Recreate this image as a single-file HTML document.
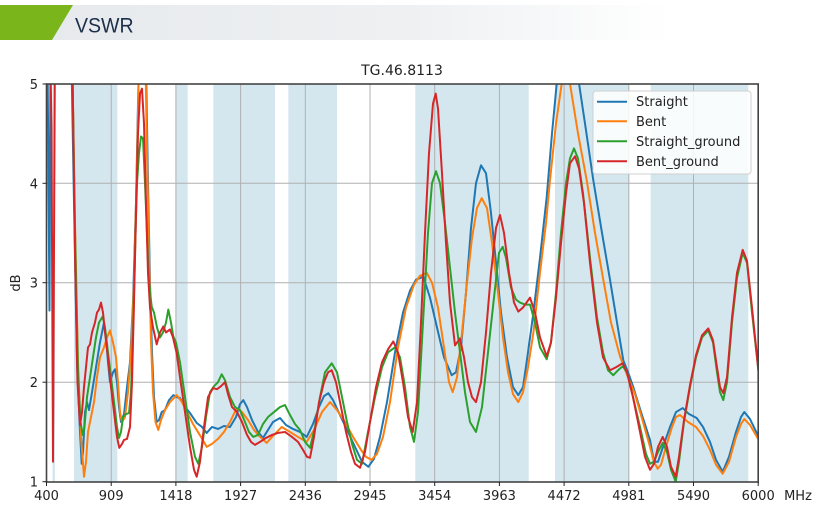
<!DOCTYPE html>
<html><head><meta charset="utf-8"><style>
html,body{margin:0;padding:0;background:#fff;}
body{width:817px;height:512px;overflow:hidden;position:relative;font-family:"DejaVu Sans","Liberation Sans",sans-serif;}
</style></head><body>
<svg width="817" height="512" viewBox="0 0 817 512" xmlns="http://www.w3.org/2000/svg" style="position:absolute;left:0;top:0">
<defs>
<linearGradient id="hg" x1="0" x2="1" y1="0" y2="0">
<stop offset="0" stop-color="#e6e9ec"/><stop offset="0.5" stop-color="#eef0f2"/><stop offset="0.82" stop-color="#ffffff"/>
</linearGradient>
<clipPath id="pc"><rect x="46.5" y="84" width="712" height="398"/></clipPath>
</defs>
<!-- header -->
<rect x="0" y="5" width="817" height="35" fill="url(#hg)"/>
<polygon points="0,5 73,5 52,40 0,40" fill="#79b51b"/>
<text x="75" y="32.5" font-family="Liberation Sans, sans-serif" font-size="21" fill="#1b2f4b" transform="translate(75 0) scale(0.93 1) translate(-75 0)">VSWR</text>

<!-- title -->
<text x="402" y="75" font-size="14" text-anchor="middle" fill="#222">TG.46.8113</text>

<!-- bands -->
<g fill="#d4e7ef">
<rect x="52.5" y="84" width="2.5" height="398"/>
<rect x="74" y="84" width="43.3" height="398"/>
<rect x="175.7" y="84" width="12" height="398"/>
<rect x="213.3" y="84" width="61.7" height="398"/>
<rect x="288.3" y="84" width="48.7" height="398"/>
<rect x="415.3" y="84" width="113.4" height="398"/>
<rect x="555" y="84" width="74.3" height="398"/>
<rect x="650.7" y="84" width="97.6" height="398"/>
</g>
<!-- grid -->
<g stroke="#b0b0b0" stroke-width="1">
<line x1="111.2" y1="84" x2="111.2" y2="482"/>
<line x1="175.9" y1="84" x2="175.9" y2="482"/>
<line x1="240.6" y1="84" x2="240.6" y2="482"/>
<line x1="305.3" y1="84" x2="305.3" y2="482"/>
<line x1="370" y1="84" x2="370" y2="482"/>
<line x1="434.7" y1="84" x2="434.7" y2="482"/>
<line x1="499.4" y1="84" x2="499.4" y2="482"/>
<line x1="564.1" y1="84" x2="564.1" y2="482"/>
<line x1="628.8" y1="84" x2="628.8" y2="482"/>
<line x1="693.5" y1="84" x2="693.5" y2="482"/>
<line x1="46.5" y1="183.3" x2="758.2" y2="183.3"/>
<line x1="46.5" y1="282.7" x2="758.2" y2="282.7"/>
<line x1="46.5" y1="382.2" x2="758.2" y2="382.2"/>
</g>

<!-- series -->
<g clip-path="url(#pc)">
<g transform="matrix(1 0 0 -99.5 0 581.2)" fill="none" stroke-width="2" stroke-linejoin="round" stroke-linecap="round">
<polyline vector-effect="non-scaling-stroke" stroke="#1f77b4" points="46.5,6 47.5,5.3 49.5,2.72 50.5,5.3 52,6 70,6 71.5,5.2 74,3.8 77,2.2 80,1.5 81.7,1.18 83,1.3 85,1.7 87,1.8 89,1.72 92,1.9 96,2.15 100,2.4 104,2.6 106,2.45 108,2.2 110,2.0 113,2.1 115,2.13 117,2.0 119,1.75 121,1.6 124,1.68 127,1.95 130,2.2 133,2.8 136,3.8 138,4.8 140,5.6 143,5.8 146,5.2 148,4.0 150,3.0 152,2.3 154,1.85 156.7,1.6 159,1.62 161.7,1.7 165,1.72 169,1.82 173.3,1.87 177,1.85 180,1.84 185,1.75 190,1.69 196.7,1.59 202,1.55 206.7,1.49 212,1.55 218,1.53 224,1.56 230,1.55 236,1.65 240,1.78 243.3,1.82 247,1.75 252,1.62 258,1.5 263,1.44 268,1.52 273,1.6 280,1.64 286,1.57 293,1.53 300,1.5 306.7,1.45 313,1.58 319,1.75 324,1.86 328.3,1.89 333,1.82 340,1.67 348,1.5 355,1.35 362,1.2 368.3,1.15 374,1.23 380,1.45 387,1.8 395,2.3 403,2.7 410,2.92 416,3.03 423.3,3.06 430,2.85 437,2.55 444,2.25 451.7,2.07 456,2.1 461,2.35 466,2.9 471,3.55 476,4.0 481,4.18 486,4.1 491,3.7 496,3.2 501,2.7 507,2.25 513,1.95 518.3,1.87 523,1.95 528,2.3 533.3,2.69 540,3.25 546.7,3.86 552,4.5 556.7,5.0 562,5.6 570,5.8 578.3,5.05 585,4.6 593.3,4.03 602,3.5 610,3.03 617,2.6 623.3,2.22 628,2.1 633.3,1.95 641,1.7 650,1.42 654,1.2 658,1.2 663,1.35 670,1.55 676,1.7 682.7,1.74 689,1.68 696.7,1.64 703,1.55 710,1.4 716,1.22 722.7,1.1 729,1.25 736,1.5 741,1.65 744.3,1.7 750,1.63 758.7,1.45"/>
<polyline vector-effect="non-scaling-stroke" stroke="#ff7f0e" points="46.5,6 70,6 72.5,5.1 75,3.6 78,2.2 81,1.45 84,1.05 86,1.2 88,1.5 91,1.65 94,1.8 97,2.05 100,2.25 104,2.35 107,2.45 110,2.52 113,2.4 116,2.25 118,2.0 120,1.7 122,1.6 125,1.65 128,1.9 131,2.3 134,3.0 137,4.2 139,5.2 142,5.8 145,5.5 147,4.3 149,3.3 151,2.4 153,1.9 155.5,1.6 158.3,1.52 161,1.62 165,1.72 170,1.8 176.7,1.87 182,1.8 188,1.68 193,1.58 196.7,1.52 201,1.45 206.7,1.35 212,1.38 218,1.43 224,1.5 230,1.6 236.7,1.74 242,1.7 248,1.62 254,1.52 260,1.45 266.7,1.39 272,1.45 281.7,1.55 290,1.5 298,1.45 306.7,1.4 314,1.52 322,1.7 330,1.8 337,1.72 345,1.6 353,1.45 361,1.32 366,1.25 371.7,1.22 377,1.28 383,1.45 390,1.8 398,2.35 406,2.75 414,2.98 420,3.07 426.7,3.1 432,3.0 438,2.75 444,2.35 449,2.0 452.7,1.9 457,2.05 462,2.5 467,3.0 472,3.45 477,3.75 481.7,3.85 487,3.75 492,3.4 498,2.9 503,2.45 508,2.1 513,1.88 518.3,1.8 523,1.9 528,2.15 533.3,2.49 540,3.1 546,3.6 550,4.03 556,4.6 561.7,5.0 566,5.3 570,5.0 578,4.5 586.7,4.03 595,3.5 603.3,3.03 611,2.6 620,2.26 628,2.05 635,1.88 643,1.6 650,1.35 654,1.2 657.7,1.13 661,1.17 666,1.35 672,1.55 676,1.65 680,1.67 688,1.6 696,1.55 703,1.46 710,1.32 716,1.17 722.7,1.08 729,1.2 736,1.45 741,1.58 744.3,1.63 750,1.57 758.7,1.42"/>
<polyline vector-effect="non-scaling-stroke" stroke="#2ca02c" points="46.5,6 70,6 72.5,5.1 75,3.5 78,2.1 80.5,1.6 82.7,1.47 84.5,1.55 87,1.85 90,2.05 93,2.25 96,2.45 99,2.6 102.7,2.66 105,2.55 108,2.3 111,2.05 114,1.8 117,1.55 119,1.44 121,1.5 123,1.65 126,1.68 129,1.69 131,1.9 133,2.5 135,3.3 137,4.0 139,4.3 141,4.47 143,4.45 145,4.0 147,3.5 149,3.0 151.7,2.76 154,2.7 157,2.55 160,2.45 163,2.5 166,2.6 168.3,2.73 171,2.6 173.3,2.46 176,2.4 180,2.2 185,1.85 190,1.5 195,1.25 198.3,1.18 202,1.35 206,1.65 210,1.9 214,1.96 218,2.0 221.7,2.08 225,2.02 230,1.85 235,1.75 240,1.72 245,1.6 249,1.5 253.3,1.45 258,1.47 263,1.58 268,1.65 274,1.7 280,1.75 285,1.77 290,1.67 295,1.58 300,1.52 305,1.4 310,1.34 315,1.55 320,1.85 325,2.1 331.7,2.19 337,2.1 342,1.85 347,1.6 352,1.38 357,1.22 362,1.18 368,1.5 375,1.85 382,2.15 388,2.3 395,2.35 400,2.25 405,1.95 410,1.55 414,1.4 418,1.7 423,2.6 428,3.5 432,4.0 436,4.12 440,4.0 445,3.6 450,3.15 455,2.7 460,2.3 465,1.9 470,1.6 476,1.5 482,1.75 488,2.3 494,2.85 499,3.3 502.7,3.36 506,3.25 511,2.95 516,2.83 520,2.8 525,2.78 530,2.78 535,2.6 540,2.35 546.7,2.23 551,2.4 556,2.9 561,3.5 566,4.0 570,4.25 574,4.35 578,4.25 583,3.9 590,3.25 597,2.65 603,2.3 608,2.12 613.3,2.07 618,2.12 622.7,2.16 627,2.1 633,1.85 640,1.55 646,1.28 650,1.18 654,1.2 658,1.3 662.7,1.39 667,1.3 671,1.12 675.7,1.0 679,1.2 684,1.6 690,1.95 696,2.25 702,2.45 708.3,2.52 713,2.4 717,2.1 720,1.9 723.3,1.82 727,2.0 732,2.6 737,3.05 742.7,3.3 747,3.2 752,2.7 758.7,2.09"/>
<polyline vector-effect="non-scaling-stroke" stroke="#d62728" points="46.5,6 50,5.5 51.5,4.55 53,1.2 55,5.5 57,6 70,6 72.5,5.1 75,3.3 77.5,2.0 80,1.57 82,1.7 84,1.95 86,2.15 88,2.35 90,2.38 92,2.5 95,2.6 97,2.7 99,2.73 101,2.8 103,2.7 105,2.5 108,2.25 111,1.95 114,1.7 117,1.45 119.3,1.34 122,1.38 124,1.42 127,1.43 130,1.55 132,2.0 134,2.8 136,3.7 138,4.5 140,4.9 142,4.95 144,4.6 146,3.8 148,3.1 150,2.75 153,2.55 156.7,2.38 160,2.5 163.3,2.56 166,2.5 170,2.53 173,2.45 176.7,2.29 180,2.05 185,1.7 190,1.35 194,1.12 196.7,1.05 200,1.2 204,1.55 208,1.85 213,1.94 217,1.93 221,1.96 225,2.0 228,1.88 232,1.75 237,1.7 242,1.6 247,1.47 251,1.4 255,1.37 260,1.4 266,1.44 272,1.47 278,1.49 285,1.5 292,1.45 298,1.4 303,1.32 307,1.25 310,1.24 314,1.45 319,1.8 324,2.0 328,2.1 331.7,2.12 336,2.0 341,1.75 346,1.5 351,1.3 355,1.18 360,1.14 365,1.3 370,1.6 376,1.95 382,2.2 388,2.33 393.3,2.41 398,2.3 403,2.0 408,1.65 412.7,1.5 417,1.8 421,2.6 425,3.5 429,4.3 433,4.8 435.7,4.9 438,4.75 442,4.1 446,3.4 450,2.8 455,2.37 460,2.44 464,2.25 468,2.0 472,1.85 476,1.8 481,2.0 486,2.5 491,3.1 496,3.55 500,3.68 504,3.5 509,3.1 514,2.8 518.3,2.71 523,2.75 530,2.85 535,2.7 540,2.45 546.7,2.26 551,2.4 556,2.85 561,3.4 566,3.9 570,4.2 575,4.27 579,4.15 584,3.8 590,3.2 597,2.6 603,2.25 610,2.12 616,2.15 622.7,2.19 627,2.1 633,1.85 640,1.5 645,1.25 650,1.12 654,1.18 658,1.35 662.7,1.45 667,1.35 671,1.15 675.7,1.05 679,1.25 684,1.62 690,1.97 696,2.27 702,2.47 708.3,2.54 713,2.42 717,2.15 720,1.95 723.3,1.89 727,2.05 732,2.65 737,3.1 742.7,3.33 747,3.22 752,2.75 758.7,2.09"/>
</g>
</g>

<!-- frame -->
<rect x="46.5" y="84" width="711.7" height="398" fill="none" stroke="#444" stroke-width="1.6"/>
<!-- ticks -->
<g stroke="#222" stroke-width="1">
<line x1="46.5" y1="482" x2="46.5" y2="486"/><line x1="111.2" y1="482" x2="111.2" y2="486"/>
<line x1="175.9" y1="482" x2="175.9" y2="486"/><line x1="240.6" y1="482" x2="240.6" y2="486"/>
<line x1="305.3" y1="482" x2="305.3" y2="486"/><line x1="370" y1="482" x2="370" y2="486"/>
<line x1="434.7" y1="482" x2="434.7" y2="486"/><line x1="499.4" y1="482" x2="499.4" y2="486"/>
<line x1="564.1" y1="482" x2="564.1" y2="486"/><line x1="628.8" y1="482" x2="628.8" y2="486"/>
<line x1="693.5" y1="482" x2="693.5" y2="486"/><line x1="758.2" y1="482" x2="758.2" y2="486"/>
<line x1="42.5" y1="84" x2="46.5" y2="84"/><line x1="42.5" y1="183.3" x2="46.5" y2="183.3"/>
<line x1="42.5" y1="282.7" x2="46.5" y2="282.7"/><line x1="42.5" y1="382.2" x2="46.5" y2="382.2"/>
<line x1="42.5" y1="481.7" x2="46.5" y2="481.7"/>
</g>
<!-- tick labels -->
<g font-size="13" fill="#222" text-anchor="middle">
<text x="46.5" y="500">400</text><text x="111.2" y="500">909</text>
<text x="175.9" y="500">1418</text><text x="240.6" y="500">1927</text>
<text x="305.3" y="500">2436</text><text x="370" y="500">2945</text>
<text x="434.7" y="500">3454</text><text x="499.4" y="500">3963</text>
<text x="564.1" y="500">4472</text><text x="628.8" y="500">4981</text>
<text x="693.5" y="500">5490</text><text x="758.2" y="500">6000</text>
<text x="798" y="500">MHz</text>
</g>
<g font-size="13" fill="#222" text-anchor="end">
<text x="38" y="89">5</text><text x="38" y="188.3">4</text><text x="38" y="287.7">3</text>
<text x="38" y="387.2">2</text><text x="38" y="486.7">1</text>
</g>
<text x="20" y="283" font-size="13" fill="#222" text-anchor="middle" transform="rotate(-90 20 283)" dy="0">dB</text>

<!-- legend -->
<rect x="593" y="91" width="158" height="83" rx="3" fill="#ffffff" fill-opacity="0.85" stroke="#d0d0d0" stroke-width="1"/>
<g stroke-width="2">
<line x1="597" y1="101.7" x2="627" y2="101.7" stroke="#1f77b4"/>
<line x1="597" y1="121.3" x2="627" y2="121.3" stroke="#ff7f0e"/>
<line x1="597" y1="141.3" x2="627" y2="141.3" stroke="#2ca02c"/>
<line x1="597" y1="161.3" x2="627" y2="161.3" stroke="#d62728"/>
</g>
<g font-size="13" fill="#222">
<text x="636" y="106.2">Straight</text>
<text x="636" y="125.8">Bent</text>
<text x="636" y="145.8">Straight_ground</text>
<text x="636" y="165.8">Bent_ground</text>
</g>
</svg>
</body></html>
